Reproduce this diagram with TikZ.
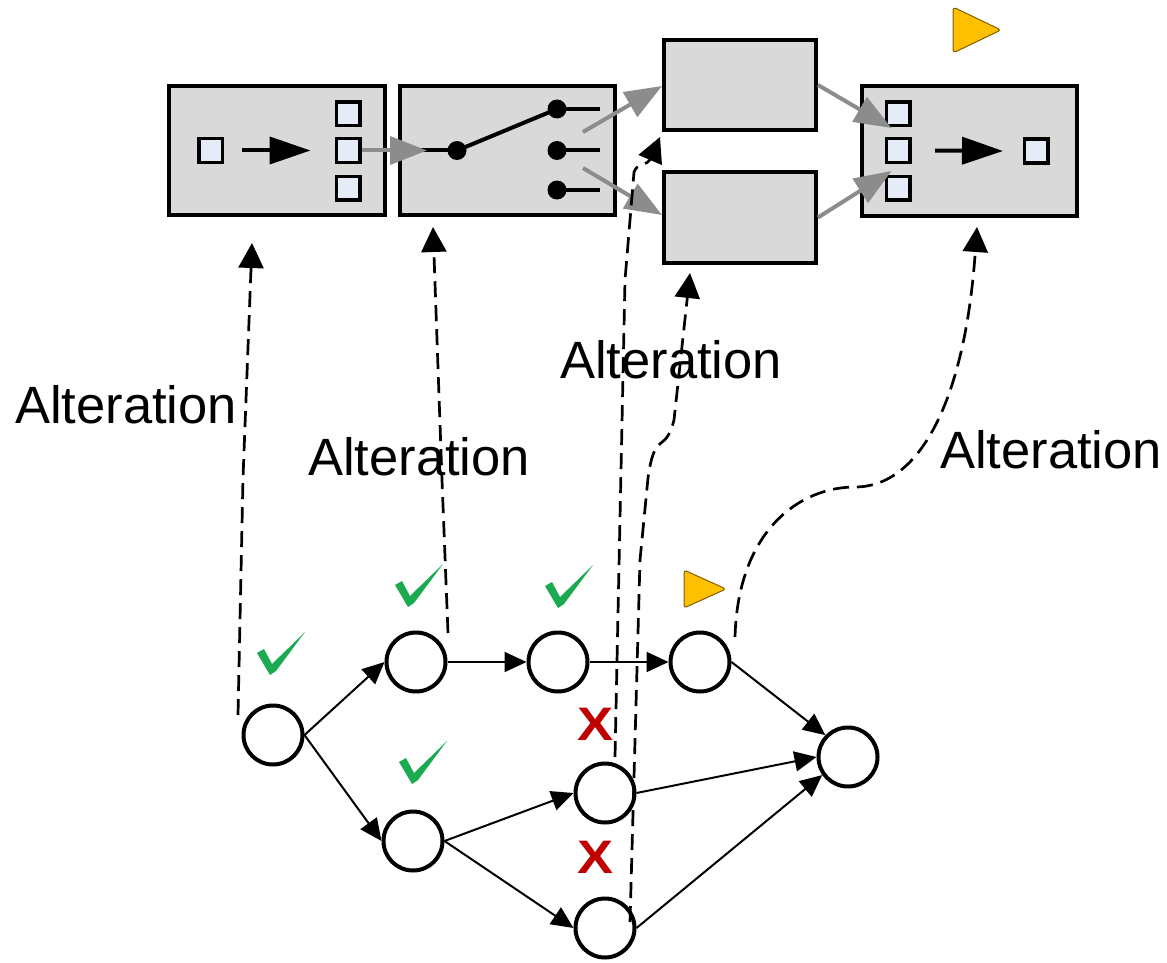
\documentclass[tikz,border=0pt]{standalone}
\usepackage{fontspec}
\setmainfont{Liberation Sans}
\usetikzlibrary{arrows.meta,calc}
\definecolor{boxfill}{HTML}{D9D9D9}
\definecolor{sqfill}{HTML}{E6ECF7}
\definecolor{arrgray}{HTML}{8C8C8C}
\definecolor{chkgreen}{HTML}{1AAA50}
\definecolor{xred}{HTML}{C00000}
\definecolor{trifill}{HTML}{FFC000}
\definecolor{triedge}{HTML}{7F6000}
\begin{document}
\begin{tikzpicture}[x=1pt,y=-1pt,
  bigbox/.style={draw=black,fill=boxfill,line width=4pt,rectangle,inner sep=0pt},
  sq/.style={draw=black,fill=sqfill,line width=3.5pt,rectangle,minimum size=23.5pt,inner sep=0pt},
  swdot/.style={circle,fill=black,minimum size=19pt,inner sep=0pt},
  stub/.style={line width=4pt},
  grayarr/.style={draw=arrgray,line width=4pt,-{Triangle[length=37pt,width=28pt]}},
  blackarr/.style={line width=4pt,-{Triangle[length=41pt,width=27pt]}},
  gnode/.style={circle,draw=black,line width=4pt,minimum size=59pt,inner sep=0pt,fill=white},
  gedge/.style={line width=2pt,-{Triangle[length=22pt,width=20pt]}},
  altarr/.style={line width=2.7pt,dash pattern=on 16pt off 8pt,-{Triangle[length=25pt,width=25pt]}},
  lbl/.style={font=\fontsize{52.5}{60}\selectfont,anchor=base west,inner sep=0pt},
  xmark/.style={font=\fontsize{47}{50}\selectfont\bfseries,text=xred,inner sep=0pt},
  playtri/.style={fill=trifill,draw=triedge,line width=1pt,rounded corners=3pt},
  chk/.pic={\fill[chkgreen] (0,0) -- (-13,-22) -- (-6,-26) -- (2,-11) -- (35,-43) -- (6,-4) -- cycle;}
]
\useasboundingbox (0,0) rectangle (1167,963);

% ---------- top pipeline ----------
\node[bigbox,minimum width=216pt,minimum height=129pt] (A) at (277,150.5) {};
\node[bigbox,minimum width=215pt,minimum height=129pt] (B) at (507.5,150.5) {};
\node[bigbox,minimum width=152pt,minimum height=90pt] (C) at (740,85) {};
\node[bigbox,minimum width=152pt,minimum height=91pt] (D) at (740,217.5) {};
\node[bigbox,minimum width=215pt,minimum height=130pt] (E) at (969.5,151) {};

\node[sq] (Ain) at (210.5,150.5) {};
\node[sq] (Ao1) at (348,114) {};
\node[sq] (Ao2) at (348,150.5) {};
\node[sq] (Ao3) at (348,188) {};
\node[sq] (Ei1) at (898,114) {};
\node[sq] (Ei2) at (898,150.5) {};
\node[sq] (Ei3) at (898,188) {};
\node[sq] (Eo) at (1036,151) {};

\draw[blackarr] ($(Ain.east)+(18,0)$) -- ($(Ao2.west)+(-24,0)$);
\draw[blackarr] ($(Ei2.east)+(23.5,0)$) -- ($(Eo.west)+(-19.5,0)$);

% switch in box B
\node[swdot] (s0) at (457,150.5) {};
\node[swdot] (s1) at (557,109) {};
\node[swdot] (s2) at (557,150.5) {};
\node[swdot] (s3) at (557,190) {};
\draw[stub] (B.west) -- (s0.center);
\draw[stub] (s0.center) -- (s1.center);
\draw[stub] (s1.center) -- ++(43,0);
\draw[stub] (s2.center) -- ++(43,0);
\draw[stub] (s3.center) -- ++(43,0);

\coordinate (bc) at (583,132);
\coordinate (bd) at (583,168);
\draw[grayarr] (Ao2.east) -- ($(B.west)+(29,0)$);
\draw[grayarr] (bc) -- ($(C.west)+(0,1)$);
\draw[grayarr] (bd) -- ($(D.west)+(0,-2.5)$);
\draw[grayarr] (C.east) -- ($(Ei1.south west)+(7,0.5)$);
\draw[grayarr] (D.east) -- ($(Ei3.north west)+(7,-3.5)$);

\draw[playtri] (953,7) -- (1001,30) -- (953,53) -- cycle;

% ---------- bottom graph ----------
\node[gnode] (n1) at (273,735) {};
\node[gnode] (n2) at (416,662) {};
\node[gnode] (n3) at (558,662) {};
\node[gnode] (n4) at (413,841) {};
\node[gnode] (n5) at (605,793) {};
\node[gnode] (n6) at (605,928) {};
\node[gnode] (n7) at (700,662) {};
\node[gnode] (n8) at (848,757) {};

\draw[gedge] (n1.east) -- (n2.west);
\draw[gedge] (n1.east) -- (n4.west);
\draw[gedge] (n2.east) -- (n3.west);
\draw[gedge] (n3.east) -- (n7.west);
\draw[gedge] (n4.east) -- (n5.west);
\draw[gedge] (n4.east) -- (n6.west);
\draw[gedge] (n7.east) -- (n8.136);
\draw[gedge] (n5.east) -- (n8.west);
\draw[gedge] (n6.east) -- (n8.215);

\pic at (270,675) {chk};
\pic at (408,607) {chk};
\pic at (558,608) {chk};
\pic at (412,784) {chk};

\node[xmark] (x1) at (596,724) {\scalebox{1.15}[1]{X}};
\node[xmark] (x2) at (596,857) {\scalebox{1.15}[1]{X}};

\draw[playtri] (684,570) -- (726,589) -- (684,608) -- cycle;

% ---------- labels ----------
\node[lbl] (L1) at (15,423) {Alteration};
\node[lbl] (L2) at (308,475) {Alteration};
\node[lbl] (L3) at (560,378) {Alteration};
\node[lbl] (L4) at (940,468) {Alteration};

% ---------- alteration connectors ----------
\coordinate (a1s) at (238,715);
\coordinate (a1e) at (252,243);
\coordinate (a2s) at (448,633);
\coordinate (a2e) at (433,227);
\coordinate (a3s) at (615,757);
\coordinate (a3e) at (660,137);
\coordinate (a4s) at (630,922);
\coordinate (a4e) at (690,273);
\coordinate (a5s) at (735,637);
\coordinate (a5e) at (977,227);

\draw[altarr] (a1s) -- (243,478) -- (a1e);
\draw[altarr] (a2s) -- (442,480) -- (a2e);
\draw[altarr] (a3s) -- (625,280) -- (634,172) .. controls (637,163) and (648,165) .. (a3e);
\draw[altarr] (a4s) -- (640,560) -- (648,478) .. controls (651,456) and (655,447) .. (661,443)
   .. controls (667,439) and (671,432) .. (674,420) -- (a4e);
\draw[altarr] (a5s) .. controls (738,530) and (800,487) .. (855,487)
   .. controls (920,487) and (965,400) .. (a5e);
\end{tikzpicture}
\end{document}
